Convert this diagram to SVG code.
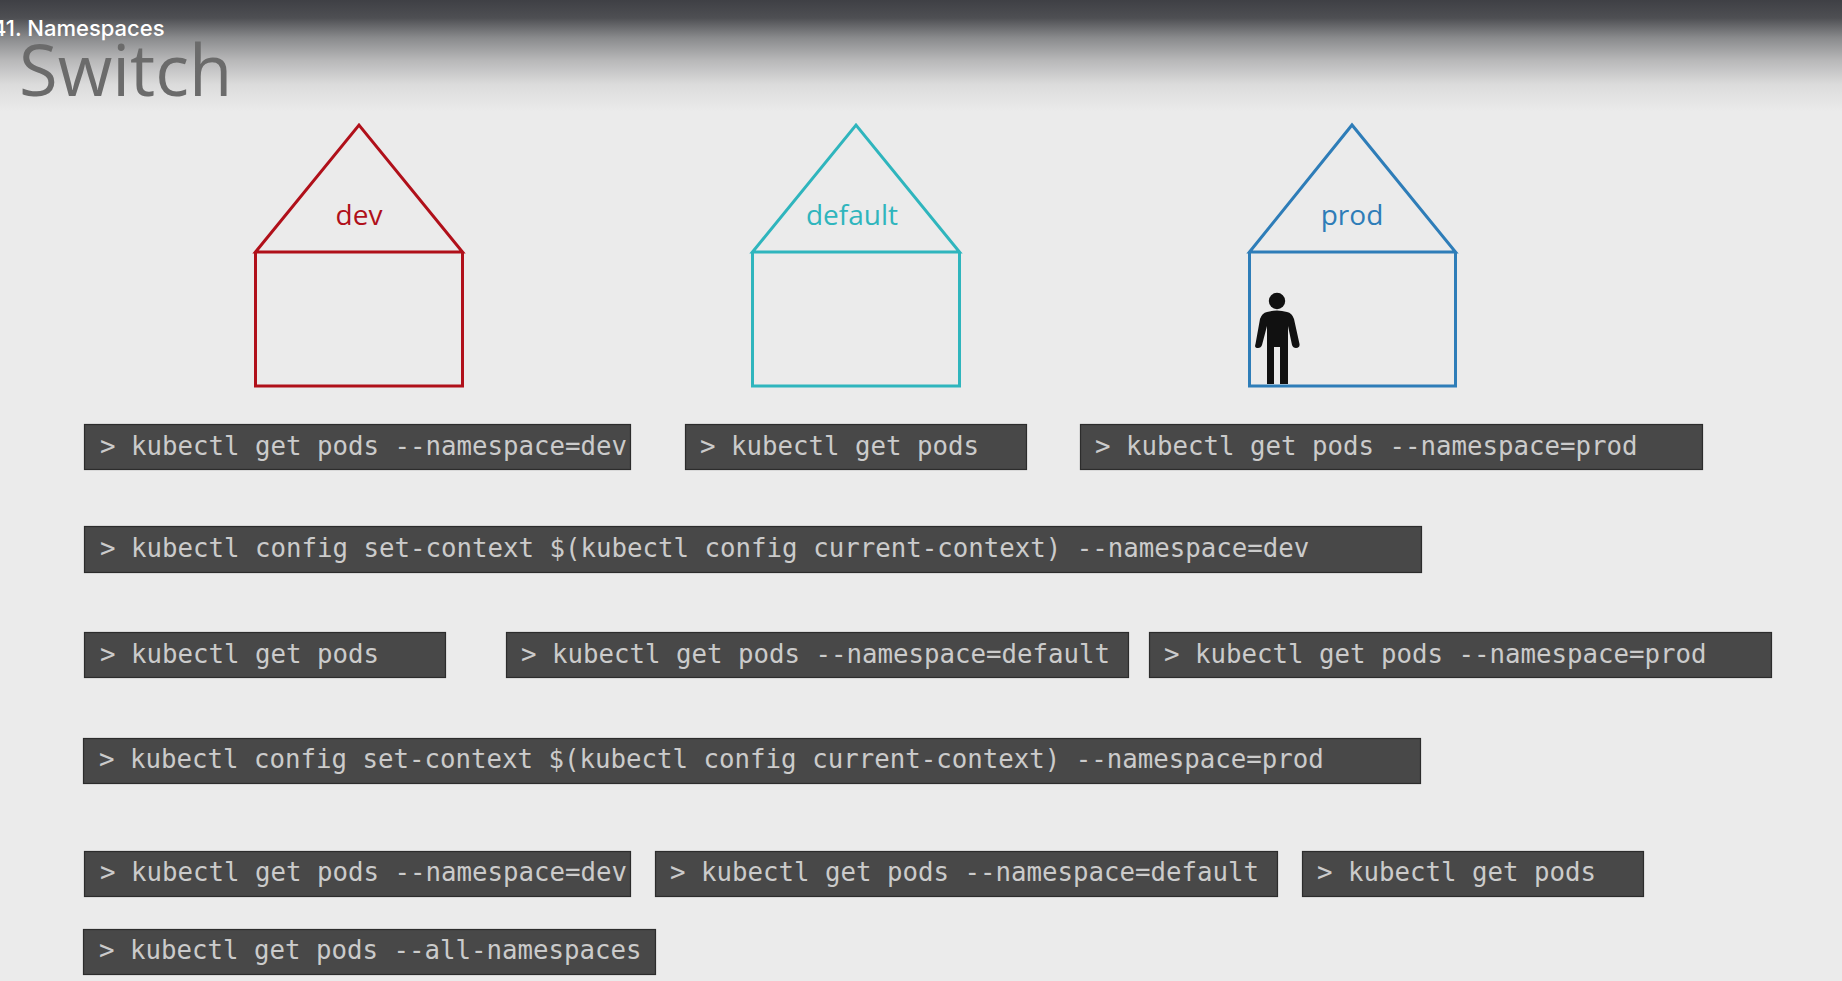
<svg xmlns="http://www.w3.org/2000/svg" width="1842" height="981" viewBox="0 0 1842 981">
<style>
.cb{fill:#484848;stroke:#2c2c2c;stroke-width:1.2}
.ct{font-family:"DejaVu Sans Mono","Liberation Mono",monospace;font-size:25.76px;fill:#cbcbcb;white-space:pre}
.h{fill:none;stroke-width:3;stroke-linejoin:miter}
.l{font-family:"Open Sans","Noto Sans",sans-serif;font-size:28px;text-anchor:middle}
</style>
<defs>
<linearGradient id="top" gradientUnits="userSpaceOnUse" x1="0" y1="0" x2="0" y2="112">
<stop offset="0" stop-color="#3f4045"/>
<stop offset="0.16" stop-color="#4e4f53"/>
<stop offset="0.34" stop-color="#8a8b8d"/>
<stop offset="0.54" stop-color="#b8b8b9"/>
<stop offset="0.76" stop-color="#dcdcdc"/>
<stop offset="1" stop-color="#ebebeb"/>
</linearGradient>
</defs>
<rect width="1842" height="981" fill="#ebebeb"/>
<rect width="1842" height="112" fill="url(#top)"/>
<text x="-8" y="36" font-family="Inter,'Liberation Sans',sans-serif" font-size="22" font-weight="500" fill="#fff">41. Namespaces</text>
<text x="19" y="96" font-family="'Open Sans','Noto Sans',sans-serif" font-size="70.500" fill="#6b6b6b">Switch</text>
<g id="dev"><path class="h" stroke="#b0101a" d="M255.500 252L359 125L462.500 252ZM255.500 252V386H462.500V252"/><text class="l" x="359" y="225" fill="#b0101a">dev</text></g>
<g id="default"><path class="h" stroke="#2fb5bd" d="M752.500 252L856 125L959.500 252ZM752.500 252V386H959.500V252"/><text class="l" x="852" y="225" fill="#2fb5bd">default</text></g>
<g id="prod"><path class="h" stroke="#2e7db8" d="M1249.500 252L1352 125L1455.500 252ZM1249.500 252V386H1455.500V252"/><text class="l" x="1352" y="225" fill="#2e7db8">prod</text></g>
<g id="person" fill="#111">
<circle cx="1277" cy="301" r="8.200"/>
<path d="M1267 312Q1277 309 1287 312Q1292 313 1294 319L1299.500 344Q1300 348 1296 348Q1293 348 1292 345L1288 326V384H1280V347H1274V384H1267V326L1262 345Q1261 348 1258 348Q1254 348 1255.500 344L1260 319Q1262 313 1267 312Z"/>
</g>
<g id="cmd1"><rect class="cb" x="84.500" y="424.500" width="546" height="45"/><text class="ct" x="100" y="455">&gt; kubectl get pods --namespace=dev</text></g>
<g id="cmd2"><rect class="cb" x="685.500" y="424.500" width="341" height="45"/><text class="ct" x="700" y="455">&gt; kubectl get pods</text></g>
<g id="cmd3"><rect class="cb" x="1080.500" y="424.500" width="622" height="45"/><text class="ct" x="1095" y="455">&gt; kubectl get pods --namespace=prod</text></g>
<g id="cmd4"><rect class="cb" x="84.500" y="526.500" width="1337" height="46"/><text class="ct" x="100" y="557">&gt; kubectl config set-context $(kubectl config current-context) --namespace=dev</text></g>
<g id="cmd5"><rect class="cb" x="84.500" y="632.500" width="361" height="45"/><text class="ct" x="100" y="663">&gt; kubectl get pods</text></g>
<g id="cmd6"><rect class="cb" x="506.500" y="632.500" width="622" height="45"/><text class="ct" x="521" y="663">&gt; kubectl get pods --namespace=default</text></g>
<g id="cmd7"><rect class="cb" x="1149.500" y="632.500" width="622" height="45"/><text class="ct" x="1164" y="663">&gt; kubectl get pods --namespace=prod</text></g>
<g id="cmd8"><rect class="cb" x="83.500" y="738.500" width="1337" height="45"/><text class="ct" x="99" y="768">&gt; kubectl config set-context $(kubectl config current-context) --namespace=prod</text></g>
<g id="cmd9"><rect class="cb" x="84.500" y="851.500" width="546" height="45"/><text class="ct" x="100" y="881">&gt; kubectl get pods --namespace=dev</text></g>
<g id="cmd10"><rect class="cb" x="655.500" y="851.500" width="622" height="45"/><text class="ct" x="670" y="881">&gt; kubectl get pods --namespace=default</text></g>
<g id="cmd11"><rect class="cb" x="1302.500" y="851.500" width="341" height="45"/><text class="ct" x="1317" y="881">&gt; kubectl get pods</text></g>
<g id="cmd12"><rect class="cb" x="83.500" y="929.500" width="572" height="45"/><text class="ct" x="99" y="959">&gt; kubectl get pods --all-namespaces</text></g>
</svg>
